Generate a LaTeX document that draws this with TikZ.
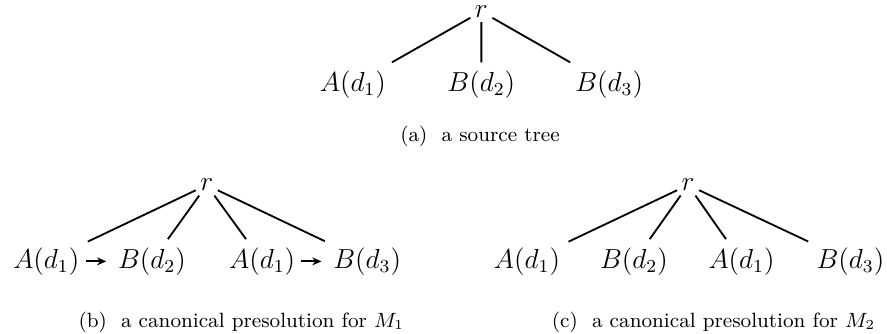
\documentclass[tikz,border=0pt]{standalone}
\usepackage{amsmath,amssymb}
\usetikzlibrary{positioning,calc,arrows.meta}
\tikzset{lf/.style={inner sep=3.5pt,font=\large}  }
\tikzset{rt/.style={inner sep=1pt,outer sep=1pt,font=\large}  }
\tikzset{subcap/.style={inner sep=0pt,font=\small}  }
\tikzset{edge/.style={line width=0.8pt}  }
\tikzset{>={Stealth[length=4pt,width=3.5pt]}}

\begin{document}
\begin{tikzpicture}
	\useasboundingbox (0,0) rectangle (13.6,5.107);
	% (a)
		\node[rt] (r) at (7.38,4.93) {$r$};
		\node[lf] (a1) at (5.41,3.81) {$A(d_1)$};
		\node[lf] (a2) at (7.38,3.81) {$B(d_2)$};
		\node[lf] (a3) at (9.34,3.81) {$B(d_3)$};
	\draw[edge] (r)--(a1) (r)--(a2) (r)--(a3);
		\node[subcap] (capa) at (7.36,3.01) {(a)\ \ a source tree};
	% (b)
		\node[rt] (rb) at (3.17,2.27) {$r$};
		\node[lf] (b1) at (0.71,1.10) {$A(d_1)$};
		\node[lf] (b2) at (2.33,1.10) {$B(d_2)$};
		\node[lf] (b3) at (4.02,1.10) {$A(d_1)$};
		\node[lf] (b4) at (5.63,1.10) {$B(d_3)$};
	\draw[edge] (rb)--(b1) (rb)--(b2) (rb)--(b3) (rb)--(b4);
	\draw[edge,->,shorten <=-1pt,shorten >=1.5pt] (b1)--(b2);
	\draw[edge,->,shorten <=-1pt,shorten >=1.5pt] (b3)--(b4);
		\node[subcap] (capb) at (3.70,0.17) {(b)\ \ a canonical presolution for $M_1$};
	% (c)
		\node[rt] (rc) at (10.55,2.27) {$r$};
		\node[lf] (c1) at (8.08,1.10) {$A(d_1)$};
		\node[lf] (c2) at (9.72,1.10) {$B(d_2)$};
		\node[lf] (c3) at (11.37,1.10) {$A(d_1)$};
		\node[lf] (c4) at (13.04,1.10) {$B(d_3)$};
	\draw[edge] (rc)--(c1) (rc)--(c2) (rc)--(c3) (rc)--(c4);
		\node[subcap] (capc) at (10.94,0.17) {(c)\ \ a canonical presolution for $M_2$};
\end{tikzpicture}
\end{document}
